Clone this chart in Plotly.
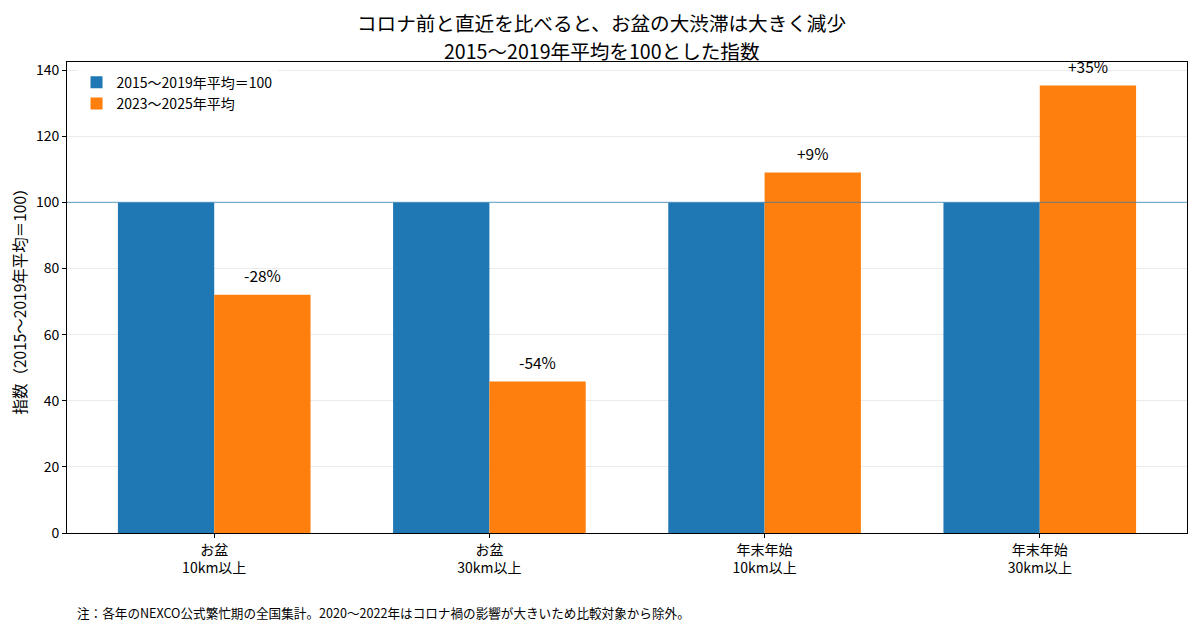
import plotly.graph_objects as go

categories = ["お盆<br>10km以上", "お盆<br>30km以上", "年末年始<br>10km以上", "年末年始<br>30km以上"]
base_values = [100, 100, 100, 100]
recent_values = [72.1, 45.8, 109.1, 135.4]
series_names = ["2015〜2019年平均＝100", "2023〜2025年平均"]
title_lines = ["コロナ前と直近を比べると、お盆の大渋滞は大きく減少", "2015〜2019年平均を100とした指数"]

BLUE = "#1f77b4"
ORANGE = "#ff7f0e"
FONT = "Noto Sans CJK JP, Noto Sans, sans-serif"

# page body adds an 8px offset, so the figure is a bit smaller than the window
W, H = 1192, 623
L, R, T, B = 55, 12, 54, 98
plot_w, plot_h = W - L - R, H - T - B

fig = go.Figure()
fig.add_trace(go.Bar(x=categories, y=base_values, name=series_names[0],
                     marker=dict(color=BLUE, line=dict(width=0))))
fig.add_trace(go.Bar(x=categories, y=recent_values, name=series_names[1],
                     marker=dict(color=ORANGE, line=dict(width=0))))

# percent change labels above the orange bars
for i, v in enumerate(recent_values):
    pct = round(v - 100)
    fig.add_annotation(x=i + 0.175, y=v + 2, xref="x", yref="y",
                       text=f"{pct:+d}%", showarrow=False, yanchor="bottom",
                       font=dict(size=15.5, color="black"))

fig.add_hline(y=100, line=dict(color="rgba(31,119,180,0.55)", width=1.2))

# two-line title as separate texts (pixel rows of the figure)
for line, py in zip(title_lines, [14, 42]):
    fig.add_annotation(x=(592 - L) / plot_w, y=1 + (T - py) / plot_h,
                       xref="paper", yref="paper", showarrow=False,
                       text=line, xanchor="center", yanchor="middle", borderpad=0,
                       font=dict(size=19.6, color="black"))

fig.add_annotation(x=(63 - L) / plot_w, y=-(604 - (H - B)) / plot_h,
                   xref="paper", yref="paper", showarrow=False,
                   text="注：各年のNEXCO公式繁忙期の全国集計。2020〜2022年はコロナ禍の影響が大きいため比較対象から除外。",
                   font=dict(size=12.6, color="black"), xanchor="left", yanchor="middle")

fig.update_layout(
    width=W, height=H,
    margin=dict(l=L, r=R, t=T, b=B),
    paper_bgcolor="white", plot_bgcolor="white",
    font=dict(family=FONT, color="black", size=14),
    barmode="group", bargap=0.3, bargroupgap=0,
    showlegend=True,
    legend=dict(x=0.0085, y=0.99, xanchor="left", yanchor="top",
                bgcolor="rgba(255,255,255,0.8)", font=dict(size=14),
                itemwidth=30, tracegroupgap=2),
    xaxis=dict(range=[-0.535, 3.535], showline=True, linecolor="black", linewidth=1,
               mirror=True, ticks="outside", ticklen=4, tickcolor="black",
               showgrid=False, tickfont=dict(size=14)),
    yaxis=dict(range=[0, 142.5], dtick=20, showline=True, linecolor="black", linewidth=1,
               mirror=True, ticks="outside", ticklen=4, tickcolor="black",
               showgrid=True, gridcolor="rgba(0,0,0,0.08)", gridwidth=1,
               zeroline=False, tickfont=dict(size=14),
               title=dict(text="指数（2015〜2019年平均＝100）", font=dict(size=15.5), standoff=5)),
)

fig.write_html("out.html")
